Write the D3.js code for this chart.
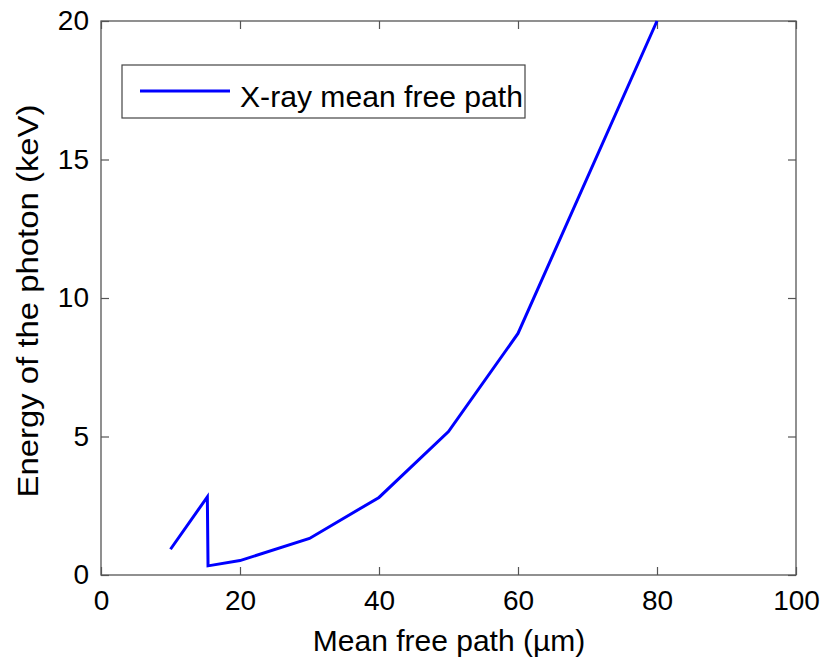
<!DOCTYPE html>
<html><head><meta charset="utf-8">
<script src="https://cdn.jsdelivr.net/npm/d3@7"></script>
<style>body{margin:0;background:#fff}svg{display:block}text{font-family:"Liberation Sans",Arial,sans-serif;fill:#000}</style>
</head><body>
<svg id="c" width="824" height="660"></svg>
<script>
const pathX = [10, 15.3, 15.4, 20, 30, 40, 50, 60, 80];
const energyY = [0.93, 2.82, 0.33, 0.52, 1.32, 2.8, 5.18, 8.72, 20];
const xTicks = [0, 20, 40, 60, 80, 100];
const yTicks = [0, 5, 10, 15, 20];
const seriesName = "X-ray mean free path";

const svg = d3.select("#c");
const L = 101, R = 796, T = 21, B = 575;
const x = d3.scaleLinear().domain([0, 100]).range([L, R]);
const y = d3.scaleLinear().domain([0, 20]).range([B, T]);
const axisColor = "#555";
const FONT = '"Liberation Sans",Arial,sans-serif';

svg.append("rect").attr("x", L).attr("y", T).attr("width", R - L).attr("height", B - T)
  .attr("fill", "#fff").attr("stroke", axisColor).attr("stroke-width", 1.3);

const fmt = d3.format("d");
const xb = svg.append("g").attr("transform", `translate(0,${B})`)
  .call(d3.axisBottom(x).tickValues(xTicks).tickFormat(fmt).tickSize(-8).tickPadding(15));
const xt = svg.append("g").attr("transform", `translate(0,${T})`)
  .call(d3.axisTop(x).tickValues(xTicks).tickFormat("").tickSize(-8));
const yl = svg.append("g").attr("transform", `translate(${L},0)`)
  .call(d3.axisLeft(y).tickValues(yTicks).tickFormat(fmt).tickSize(-8).tickPadding(12));
const yr = svg.append("g").attr("transform", `translate(${R},0)`)
  .call(d3.axisRight(y).tickValues(yTicks).tickFormat("").tickSize(-8));
[xb, xt, yl, yr].forEach(g => {
  g.select(".domain").remove();
  g.selectAll(".tick line").attr("stroke", axisColor).attr("stroke-width", 1.2);
  g.selectAll(".tick text").attr("font-size", 28).attr("font-family", FONT).attr("fill", "#000");
});

const data = pathX.map((v, i) => [v, energyY[i]]);
svg.append("path").datum(data)
  .attr("d", d3.line().x(d => x(d[0])).y(d => y(d[1])))
  .attr("fill", "none").attr("stroke", "#0000ff").attr("stroke-width", 3)
  .attr("stroke-linejoin", "miter");

// legend
const lg = svg.append("g");
lg.append("rect").attr("x", 122).attr("y", 65).attr("width", 403).attr("height", 53)
  .attr("fill", "#fff").attr("stroke", "#444").attr("stroke-width", 1.2);
lg.append("line").attr("x1", 140).attr("x2", 230).attr("y1", 91).attr("y2", 91)
  .attr("stroke", "#0000ff").attr("stroke-width", 3);
lg.append("text").attr("x", 240).attr("y", 107).attr("font-size", 30)
  .attr("textLength", 283).attr("lengthAdjust", "spacingAndGlyphs").text(seriesName);

svg.append("text").attr("x", 449).attr("y", 651).attr("text-anchor", "middle")
  .attr("font-size", 30).text("Mean free path (µm)");
svg.append("text").attr("transform", `translate(38,301) rotate(-90)`)
  .attr("text-anchor", "middle").attr("font-size", 30)
  .attr("textLength", 393).attr("lengthAdjust", "spacingAndGlyphs").text("Energy of the photon (keV)");
</script>
</body></html>
